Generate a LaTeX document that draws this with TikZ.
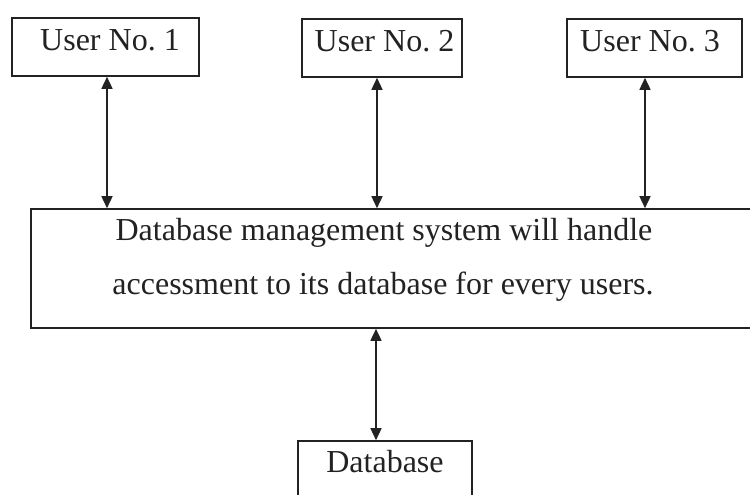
\documentclass[tikz,border=0pt]{standalone}
\usepackage{fontspec}
\setmainfont{Liberation Serif}
\usetikzlibrary{arrows.meta}
\definecolor{ink}{HTML}{222222}
\tikzset{
  box/.style={draw=ink, line width=0.8pt, rectangle, inner sep=0pt},
  txt/.style={anchor=base, inner sep=0pt, text=ink, font=\fontsize{16}{19}\selectfont},
  arr/.style={draw=ink, line width=0.75pt, {Triangle[length=6pt,width=5.5pt]}-{Triangle[length=6pt,width=5.5pt]}}
}
\frenchspacing
\begin{document}
\begin{tikzpicture}[x=0.5pt,y=-0.5pt]
\clip (0,0) rectangle (750,494);
\fill[white] (0,0) rectangle (750,494);
% boxes
\node[box, minimum width=93.5pt, minimum height=29pt] (u1) at (105.5,47) {};
\node[box, minimum width=80pt, minimum height=29pt] (u2) at (382,48) {};
\node[box, minimum width=87.5pt, minimum height=29pt] (u3) at (654.5,48) {};
\node[box, minimum width=364.5pt, minimum height=59.5pt] (dbms) at (395.5,268.5) {};
\node[box, minimum width=87pt, minimum height=34.5pt] (db) at (385,475.5) {};
% texts
\node[txt] (t1) at (110,50) {User No. 1};
\node[txt] (t2) at (384.5,51) {User No. 2};
\node[txt] (t3) at (650,51) {User No. 3};
\node[txt] (l1) at (384,240) {Database management system will handle};
\node[txt] (l2) at (383,294) {accessment to its database for every users.};
\node[txt] (t4) at (385,472) {Database};
% connectors
\draw[arr] ([xshift=0.75pt]u1.south) -- ([xshift=0.75pt]u1.south |- dbms.north);
\draw[arr] ([xshift=-2.5pt]u2.south) -- ([xshift=-2.5pt]u2.south |- dbms.north);
\draw[arr] ([xshift=-4.75pt]u3.south) -- ([xshift=-4.75pt]u3.south |- dbms.north);
\draw[arr] ([xshift=-4.5pt]db.north |- dbms.south) -- ([xshift=-4.5pt]db.north);
\end{tikzpicture}
\end{document}
